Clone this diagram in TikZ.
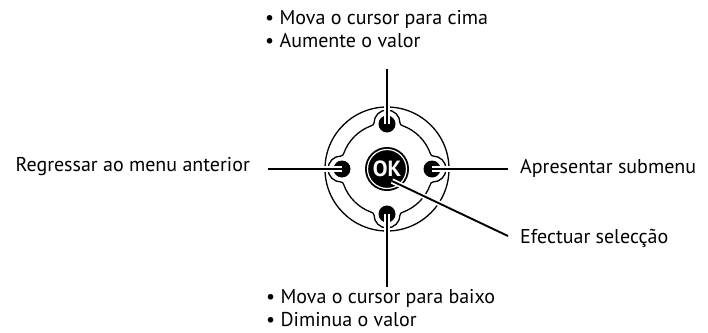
\documentclass[tikz,border=0pt]{standalone}
\usepackage{fontspec}
\setmainfont{PT Sans}
\usepackage{tikz}
\usetikzlibrary{positioning,calc}

\begin{document}
\begin{tikzpicture}[x=1pt,y=1pt,
    lead/.style={line width=1.9pt,preaction={draw=white,line width=5.5pt}},
    padline/.style={line width=1.3pt},
    dotbtn/.style={circle,fill=black,minimum size=17pt,inner sep=0pt},
    lbl/.style={font=\fontsize{20}{23.5}\selectfont,inner sep=0pt,align=left}]
  \useasboundingbox (-387,-163) rectangle (321,169);
  \draw[padline] (0,0) circle[radius=62];
  \foreach \a in {0,90,180,270}
    \draw[padline,rotate=\a] (135:46) arc[start angle=135,end angle=110,radius=46]
      to[out=20,in=-90] (-13,46) arc[start angle=180,end angle=0,radius=13]
      to[out=-90,in=160] (70:46) arc[start angle=70,end angle=45,radius=46];
  \node[dotbtn] (dotN) at (90:45) {};
  \node[dotbtn] (dotS) at (-90:45) {};
  \node[dotbtn] (dotW) at (180:45) {};
  \node[dotbtn] (dotE) at (0:45) {};
  \node[circle,fill=black,minimum size=44pt,inner sep=0pt,text=white,
        font=\fontsize{22}{22}\bfseries\selectfont] (ok) at (0,0) {OK};
  \draw[white,line width=1.2pt] (ok.center) circle[radius=19.5];

  \node[lbl,anchor=west] (up) at (-122,140) {\textbullet\ Mova o cursor para cima\\\textbullet\ Aumente o valor};
  \node[lbl,anchor=west] (down) at (-121,-139) {\textbullet\ Mova o cursor para baixo\\\textbullet\ Diminua o valor};
  \node[lbl,anchor=east] (back) at (-137,2) {Regressar ao menu anterior};
  \node[lbl,anchor=west] (sub) at (133,1) {Apresentar submenu};
  \node[lbl,anchor=west] (sel) at (133,-69) {Efectuar selecção};

  \coordinate (upend) at (0,100);
  \coordinate (downend) at (0,-118);
  \coordinate (backend) at (-119,0);
  \coordinate (subend) at (121,0);
  \coordinate (selend) at (121,-67);
  \coordinate (okfoot) at (5,-12);
  \draw[lead] (upend) -- (dotN.center);
  \draw[lead] (downend) -- (dotS.center);
  \draw[lead] (backend) -- (dotW.center);
  \draw[lead] (subend) -- (dotE.center);
  \draw[lead] (selend) -- (okfoot);
\end{tikzpicture}
\end{document}
